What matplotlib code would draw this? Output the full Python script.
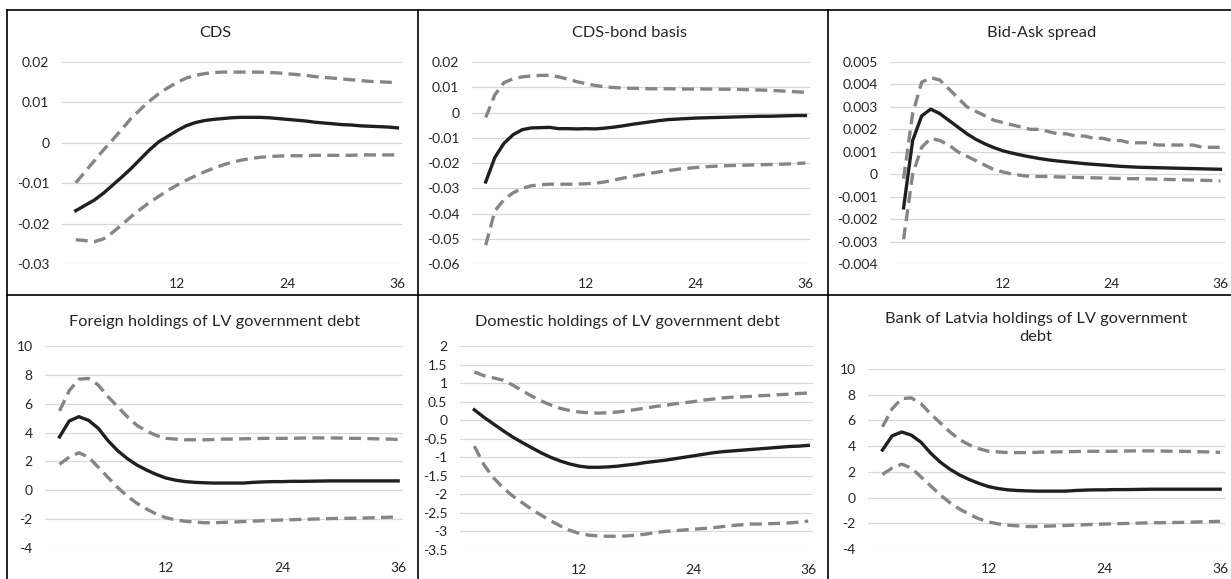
import numpy as np
import matplotlib
matplotlib.use("Agg")
import matplotlib.pyplot as plt
from matplotlib.lines import Line2D

plt.rcParams["font.family"] = ["Lato", "DejaVu Sans"]

# horizon (months), drawn on a 0..36 category axis
months = np.arange(1, 37)
x_ticks = [12, 24, 36]

# CDS
cds_mid = [-0.0168, -0.0155, -0.0142, -0.0125, -0.0105, -0.0085, -0.0064, -0.0041, -0.0018, 0.0002,
           0.0016, 0.0030, 0.0042, 0.0050, 0.0055, 0.0058, 0.0060, 0.0062, 0.0063, 0.0063,
           0.0063, 0.0062, 0.0060, 0.0058, 0.0056, 0.0054, 0.0051, 0.0049, 0.0047, 0.0045,
           0.0044, 0.0042, 0.0041, 0.0040, 0.0039, 0.0037]
cds_hi = [-0.0099, -0.0072, -0.0045, -0.0018, 0.0007, 0.0033, 0.0060, 0.0082, 0.0103, 0.0121,
          0.0136, 0.0149, 0.0160, 0.0167, 0.0171, 0.0174, 0.0175, 0.0175, 0.0175, 0.0175,
          0.0175, 0.0174, 0.0173, 0.0171, 0.0169, 0.0167, 0.0164, 0.0162, 0.0160, 0.0158,
          0.0156, 0.0154, 0.0152, 0.0151, 0.0150, 0.0149]
cds_lo = [-0.0240, -0.0242, -0.0245, -0.0238, -0.0222, -0.0203, -0.0183, -0.0165, -0.0148, -0.0133,
          -0.0118, -0.0105, -0.0093, -0.0082, -0.0072, -0.0063, -0.0055, -0.0048, -0.0043, -0.0039,
          -0.0036, -0.0034, -0.0033, -0.0032, -0.0032, -0.0032, -0.0031, -0.0031, -0.0031, -0.0031,
          -0.0031, -0.0030, -0.0030, -0.0030, -0.0030, -0.0030]

# CDS-bond basis
basis_mid = [-0.0275, -0.0178, -0.0122, -0.0088, -0.0068, -0.0061, -0.0060, -0.0059, -0.0064, -0.0064,
             -0.0065, -0.0064, -0.0065, -0.0062, -0.0058, -0.0053, -0.0047, -0.0042, -0.0037, -0.0032,
             -0.0028, -0.0026, -0.0024, -0.0022, -0.0021, -0.0020, -0.0019, -0.0018, -0.0017, -0.0016,
             -0.0015, -0.0015, -0.0014, -0.0013, -0.0012, -0.0012]
basis_hi = [-0.0020, 0.0070, 0.0118, 0.0134, 0.0141, 0.0145, 0.0147, 0.0147, 0.0141, 0.0132,
            0.0122, 0.0114, 0.0107, 0.0102, 0.0099, 0.0097, 0.0096, 0.0095, 0.0094, 0.0094,
            0.0094, 0.0093, 0.0093, 0.0093, 0.0093, 0.0093, 0.0092, 0.0092, 0.0091, 0.0090,
            0.0089, 0.0088, 0.0086, 0.0084, 0.0082, 0.0080]
basis_lo = [-0.0525, -0.0390, -0.0345, -0.0318, -0.0300, -0.0290, -0.0286, -0.0284, -0.0284, -0.0284,
            -0.0284, -0.0282, -0.0280, -0.0275, -0.0268, -0.0260, -0.0253, -0.0247, -0.0241, -0.0235,
            -0.0230, -0.0225, -0.0221, -0.0218, -0.0215, -0.0213, -0.0211, -0.0210, -0.0209, -0.0208,
            -0.0207, -0.0206, -0.0205, -0.0204, -0.0202, -0.0200]

# Bid-Ask spread
bidask_mid = [-0.0015, 0.0015, 0.0026, 0.0029, 0.0027, 0.0024, 0.0021, 0.0018, 0.00155, 0.00135,
              0.00118, 0.00104, 0.00094, 0.00085, 0.00077, 0.00070, 0.00064, 0.00059, 0.00055, 0.00051,
              0.00047, 0.00044, 0.00041, 0.00038, 0.00035, 0.00033, 0.00031, 0.00030, 0.00029, 0.00028,
              0.00027, 0.00026, 0.00025, 0.00024, 0.00023, 0.00022]
bidask_hi = [-0.0002, 0.0027, 0.0041, 0.0043, 0.0042, 0.0038, 0.0034, 0.0030, 0.0028, 0.0026,
             0.0024, 0.0023, 0.0022, 0.0021, 0.0020, 0.0020, 0.0019, 0.0018, 0.0018, 0.0017,
             0.0017, 0.0016, 0.0016, 0.0015, 0.0015, 0.0014, 0.0014, 0.0014, 0.0013, 0.0013,
             0.0013, 0.0013, 0.0013, 0.0012, 0.0012, 0.0012]
bidask_lo = [-0.0029, 0.0000, 0.0012, 0.0016, 0.0015, 0.0013, 0.0010, 0.0008, 0.0006, 0.0004,
             0.0002, 0.0001, 0.0000, -0.00005, -0.0001, -0.0001, -0.0001, -0.00012, -0.00013, -0.00014,
             -0.00015, -0.00016, -0.00017, -0.00018, -0.00019, -0.0002, -0.0002, -0.00021, -0.00022, -0.00023,
             -0.00024, -0.00025, -0.00026, -0.00027, -0.00028, -0.0003]

# Foreign holdings of LV government debt
foreign_mid = [3.7, 4.8, 5.1, 4.85, 4.3, 3.45, 2.75, 2.2, 1.75, 1.4,
               1.1, 0.85, 0.7, 0.6, 0.55, 0.52, 0.5, 0.5, 0.5, 0.5,
               0.55, 0.58, 0.6, 0.6, 0.62, 0.62, 0.63, 0.64, 0.65, 0.65,
               0.65, 0.65, 0.65, 0.65, 0.65, 0.65]
foreign_hi = [5.5, 6.9, 7.7, 7.75, 7.3, 6.5, 5.8, 5.1, 4.5, 4.1,
              3.8, 3.6, 3.55, 3.5, 3.5, 3.5, 3.52, 3.55, 3.55, 3.57,
              3.58, 3.6, 3.6, 3.6, 3.6, 3.62, 3.63, 3.63, 3.63, 3.62,
              3.6, 3.6, 3.58, 3.56, 3.55, 3.52]
foreign_lo = [1.8, 2.3, 2.6, 2.3, 1.6, 0.9, 0.2, -0.4, -0.9, -1.3,
              -1.65, -1.9, -2.05, -2.15, -2.2, -2.25, -2.25, -2.22, -2.2, -2.17,
              -2.14, -2.11, -2.08, -2.06, -2.04, -2.02, -2.0, -1.98, -1.96, -1.95,
              -1.94, -1.93, -1.91, -1.89, -1.87, -1.85]

# Domestic holdings of LV government debt
domestic_mid = [0.28, 0.08, -0.1, -0.28, -0.45, -0.6, -0.74, -0.88, -1.0, -1.1,
                -1.18, -1.24, -1.27, -1.27, -1.26, -1.24, -1.21, -1.18, -1.14, -1.11,
                -1.08, -1.04, -1.0, -0.96, -0.92, -0.88, -0.85, -0.83, -0.81, -0.79,
                -0.77, -0.75, -0.73, -0.71, -0.7, -0.68]
domestic_hi = [1.3, 1.2, 1.14, 1.08, 0.95, 0.8, 0.65, 0.52, 0.41, 0.32,
               0.26, 0.22, 0.2, 0.19, 0.2, 0.22, 0.25, 0.29, 0.33, 0.37,
               0.4, 0.44, 0.47, 0.5, 0.54, 0.57, 0.6, 0.62, 0.63, 0.64,
               0.66, 0.67, 0.69, 0.7, 0.72, 0.73]
domestic_lo = [-0.7, -1.2, -1.55, -1.82, -2.04, -2.22, -2.4, -2.56, -2.71, -2.85,
               -2.97, -3.05, -3.1, -3.12, -3.13, -3.13, -3.12, -3.1, -3.07, -3.03,
               -3.0, -2.98, -2.96, -2.94, -2.92, -2.9, -2.87, -2.84, -2.82, -2.8,
               -2.8, -2.79, -2.78, -2.77, -2.75, -2.72]

# Bank of Latvia holdings of LV government debt
bol_mid = [3.7, 4.8, 5.1, 4.85, 4.3, 3.45, 2.75, 2.2, 1.75, 1.4,
           1.1, 0.85, 0.7, 0.6, 0.55, 0.52, 0.5, 0.5, 0.5, 0.5,
           0.55, 0.58, 0.6, 0.6, 0.62, 0.62, 0.63, 0.64, 0.65, 0.65,
           0.65, 0.65, 0.65, 0.65, 0.65, 0.65]
bol_hi = [5.5, 6.9, 7.7, 7.75, 7.3, 6.5, 5.8, 5.1, 4.5, 4.1,
          3.8, 3.6, 3.55, 3.5, 3.5, 3.5, 3.52, 3.55, 3.55, 3.57,
          3.58, 3.6, 3.6, 3.6, 3.6, 3.62, 3.63, 3.63, 3.63, 3.62,
          3.6, 3.6, 3.58, 3.56, 3.55, 3.52]
bol_lo = [1.8, 2.3, 2.6, 2.3, 1.6, 0.9, 0.2, -0.4, -0.9, -1.3,
          -1.65, -1.9, -2.05, -2.15, -2.2, -2.25, -2.25, -2.22, -2.2, -2.17,
          -2.14, -2.11, -2.08, -2.06, -2.04, -2.02, -2.0, -1.98, -1.96, -1.95,
          -1.94, -1.93, -1.91, -1.89, -1.87, -1.85]

# y tick labels per panel
cds_ticks = [-0.03, -0.02, -0.01, 0, 0.01, 0.02]
basis_ticks = [-0.06, -0.05, -0.04, -0.03, -0.02, -0.01, 0, 0.01, 0.02]
bidask_ticks = [-0.004, -0.003, -0.002, -0.001, 0, 0.001, 0.002, 0.003, 0.004, 0.005]
holdings_ticks = [-4, -2, 0, 2, 4, 6, 8, 10]
domestic_ticks = [-3.5, -3, -2.5, -2, -1.5, -1, -0.5, 0, 0.5, 1, 1.5, 2]

W, H = 1231, 579
fig = plt.figure(figsize=(W / 100, H / 100), dpi=100)
fig.patch.set_facecolor("white")

# (title, title y px, title x px, mid, hi, lo, yticks, plot box left/right/top/bottom px)
panels = [
    ("CDS", 33, 215, cds_mid, cds_hi, cds_lo, cds_ticks, (62, 402, 62, 264)),
    ("CDS-bond basis", 33, 630, basis_mid, basis_hi, basis_lo, basis_ticks, (472, 810, 62, 264)),
    ("Bid-Ask spread", 33, 1042, bidask_mid, bidask_hi, bidask_lo, bidask_ticks, (890, 1225, 62, 264)),
    ("Foreign holdings of LV government debt", 322, 215, foreign_mid, foreign_hi, foreign_lo,
     holdings_ticks, (45, 403, 346, 548)),
    ("Domestic holdings of LV government debt", 322, 627, domestic_mid, domestic_hi, domestic_lo,
     domestic_ticks, (460, 813, 346, 550)),
    ("Bank of Latvia holdings of LV government\ndebt", 328, 1036, bol_mid, bol_hi, bol_lo,
     holdings_ticks, (868, 1225, 369, 549)),
]

for title, ty, tx, mid, hi, lo, yt, (l, r, t, b) in panels:
    ax = fig.add_axes([l / W, 1 - b / H, (r - l) / W, (b - t) / H])
    ax.plot(months, hi, color="#858585", lw=2.4, dashes=(3.6, 1.9))
    ax.plot(months, lo, color="#858585", lw=2.4, dashes=(3.6, 1.9))
    ax.plot(months, mid, color="#1f1f1f", lw=2.4, solid_joinstyle="round")
    ax.set_xlim(-0.5, 36.5)
    ax.set_ylim(yt[0], yt[-1])
    ax.set_yticks(yt)
    ax.set_yticklabels(["%g" % v for v in yt])
    ax.set_xticks(x_ticks)
    ax.set_xticklabels([str(v) for v in x_ticks])
    ax.grid(axis="y", color="#d9d9d9", lw=0.9)
    ax.set_axisbelow(True)
    for s in ax.spines.values():
        s.set_visible(False)
    ax.tick_params(axis="both", length=0, labelsize=10, colors="#262626")
    ax.tick_params(axis="y", pad=9)
    ax.tick_params(axis="x", pad=10)
    fig.text(tx / W, 1 - ty / H, title, ha="center", va="center", fontsize=11.8,
             color="#262626", linespacing=1.3)

# cell borders
border = dict(color="black", lw=1.2, transform=fig.transFigure)
for xv in [7, 418, 828]:
    fig.add_artist(Line2D([xv / W, xv / W], [1 - 10 / H, 0], **border))
for yv in [10, 295]:
    fig.add_artist(Line2D([7 / W, 1], [1 - yv / H, 1 - yv / H], **border))

fig.savefig("out.png", dpi=100, facecolor="white")
